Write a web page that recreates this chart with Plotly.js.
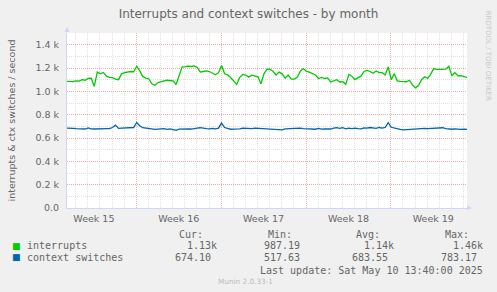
<!DOCTYPE html>
<html>
<head>
<meta charset="utf-8">
<script src="https://cdn.plot.ly/plotly-3.0.1.min.js"></script>
<style>
  html, body { margin: 0; padding: 0; background: #f0f0f0; }
  #chart { width: 497px; height: 292px; }
</style>
</head>
<body>
<div id="chart"></div>
<script>
// ---------------- data ----------------
// samples every 6 hours, starting at the left edge of the month window
const seriesNames = ['interrupts', 'context switches'];
const seriesColors = ['#00cc00', '#0066b3'];

const interrupts = [
  1085, 1085, 1083, 1090, 1088, 1100, 1095, 1110, 1112, 1042,
  1165, 1150, 1162, 1130, 1120, 1118, 1105, 1100, 1150, 1160,
  1165, 1170, 1168, 1215, 1175, 1128, 1114, 1108, 1065, 1052,
  1075, 1084, 1090, 1095, 1093, 1090, 1058, 1142, 1210, 1212,
  1216, 1213, 1218, 1205, 1165, 1170, 1175, 1170, 1155, 1142,
  1160, 1222, 1150, 1142, 1118, 1090, 1060, 1120, 1145, 1140,
  1122, 1138, 1130, 1125, 1065, 1150, 1190, 1188, 1172, 1140,
  1165, 1150, 1112, 1140, 1105, 1105, 1120, 1172, 1195, 1170,
  1165, 1150, 1140, 1110, 1120, 1110, 1115, 1080, 1090, 1100,
  1080, 1083, 1060, 1145, 1130, 1100, 1115, 1130, 1170, 1180,
  1170, 1155, 1174, 1160, 1160, 1140, 1210, 1100, 1150, 1090,
  1085, 1085, 1082, 1095, 1055, 1030, 1050, 1100, 1125, 1111,
  1145, 1195, 1188, 1188, 1190, 1190, 1215, 1135, 1160, 1133,
  1135, 1125, 1120
];

const contextSwitches = [
  684, 686, 683, 680, 678, 678, 677, 686, 678, 677,
  679, 677, 678, 680, 680, 690, 710, 682, 684, 684,
  688, 684, 690, 733, 705, 688, 684, 680, 675, 674,
  676, 678, 680, 674, 678, 672, 665, 676, 678, 677,
  678, 677, 678, 685, 688, 682, 680, 679, 682, 678,
  684, 728, 690, 682, 675, 676, 674, 678, 684, 682,
  683, 680, 684, 682, 683, 678, 676, 680, 676, 674,
  668, 670, 678, 680, 682, 683, 682, 684, 680, 678,
  677, 678, 675, 682, 676, 678, 678, 677, 684, 688,
  683, 688, 678, 684, 680, 684, 680, 678, 686, 684,
  690, 684, 682, 690, 684, 690, 732, 692, 684, 676,
  674, 670, 672, 676, 674, 678, 682, 684, 683, 680,
  682, 684, 680, 684, 688, 680, 676, 675, 678, 675,
  674, 676, 674
];

const weekLabels = ['Week 15', 'Week 16', 'Week 17', 'Week 18', 'Week 19'];
const weekLabelDates = ['2025-04-09 12:00', '2025-04-16 12:00', '2025-04-23 12:00', '2025-04-30 12:00', '2025-05-07 12:00'];
const weekStarts = ['2025-04-13', '2025-04-20', '2025-04-27', '2025-05-04'];

const yTickVals = [0, 200, 400, 600, 800, 1000, 1200, 1400];
const yTickText = ['0.0', '0.2 k', '0.4 k', '0.6 k', '0.8 k', '1.0 k', '1.2 k', '1.4 k'];

const statHeaders = ['Cur:', 'Min:', 'Avg:', 'Max:'];
const interruptStats = ['1.13k', '987.19', '1.14k', '1.46k'];
const contextStats = ['674.10', '517.63', '683.55', '783.17'];
const lastUpdate = 'Last update: Sat May 10 13:40:00 2025';
const muninVersion = 'Munin 2.0.33-1';

// ---------------- time axis ----------------
const DAY = 86400000;
const t0 = Date.UTC(2025, 3, 7, 6, 45);
const STEP = 6 * 3600 * 1000;
const fmt = ms => new Date(ms).toISOString().slice(0, 19).replace('T', ' ');
const times = interrupts.map((_, i) => fmt(t0 + i * STEP));
const xRange = [fmt(t0), fmt(t0 + 33 * DAY)];

// daily grid positions (midnights) that are not week boundaries
const weekStartMs = weekStarts.map(d => Date.parse(d + 'T00:00:00Z'));
const dayGrid = [];
for (let d = Date.UTC(2025, 3, 8); d < t0 + 33 * DAY; d += DAY) {
  if (!weekStartMs.includes(d)) dayGrid.push(fmt(d));
}

// ---------------- layout helpers ----------------
const W = 497, H = 292;
const L = 67, R = 467, T = 33, B = 208;
const px = x => (x - L) / (R - L);
const py = y => (B - y) / (B - T);

const FONT = '#666666';
const AXIS = '#CFD6F8';
const GRID = '#e0e0e0';
const MGRID = '#efa8a8';
const VGRID = 'rgba(230,120,120,0.55)';
const mono = { family: 'DejaVu Sans Mono', size: 10, color: FONT };

const traces = [
  {
    x: weekStarts, y: weekStarts.map(() => null), xaxis: 'x2', yaxis: 'y',
    type: 'scatter', mode: 'lines', showlegend: false, hoverinfo: 'skip'
  },
  {
    x: times, y: interrupts, type: 'scatter', mode: 'lines', name: seriesNames[0],
    line: { color: seriesColors[0], width: 1.3 }, hoverinfo: 'skip'
  },
  {
    x: times, y: contextSwitches, type: 'scatter', mode: 'lines', name: seriesNames[1],
    line: { color: seriesColors[1], width: 1.3 }, hoverinfo: 'skip'
  }
];

const ann = [];
function text(t, x, y, anchor, font, extra) {
  ann.push(Object.assign({
    text: t, xref: 'paper', yref: 'paper', x: px(x), y: py(y),
    xanchor: anchor, yanchor: 'middle', showarrow: false,
    font: font, borderpad: 0, borderwidth: 0
  }, extra || {}));
}

// legend swatches + names
const rowY = [245.7, 257.3];
seriesNames.forEach((n, i) => {
  text('■', 16.7, rowY[i], 'center', { family: 'DejaVu Sans', size: 9, color: seriesColors[i] });
  text(n, 26.7, rowY[i], 'left', mono);
});
// stats columns
const headerRight = [203, 292, 380, 469];
const plainRight = [210.7, 300.3, 388.3, 477.3];
const kShift = 6;
statHeaders.forEach((h, j) => text(h, headerRight[j], 234, 'right', mono));
[interruptStats, contextStats].forEach((row, i) => {
  row.forEach((v, j) => {
    const r = plainRight[j] + (/k$/.test(v) ? kShift : 0);
    text(v, r, rowY[i], 'right', mono);
  });
});
text(lastUpdate, 482.7, 270, 'right', mono);
text(muninVersion, 218.3, 281, 'left', { family: 'DejaVu Sans', size: 7.3, color: '#bbbbbb' });
text('RRDTOOL / TOBI OETIKER', 488.3, 56, 'center', { family: 'DejaVu Sans', size: 7, color: '#c8c8c8' }, { textangle: 90 });

// axis arrows
ann.push({ xref: 'paper', yref: 'paper', x: px(67), y: py(27), ax: 0, ay: 6, text: '',
  showarrow: true, arrowhead: 2, arrowsize: 1, arrowwidth: 1, arrowcolor: AXIS });
ann.push({ xref: 'paper', yref: 'paper', x: px(472), y: py(208), ax: -6, ay: 0, text: '',
  showarrow: true, arrowhead: 2, arrowsize: 1, arrowwidth: 1, arrowcolor: AXIS });

const layout = {
  width: W, height: H,
  margin: { l: L, r: W - R, t: T, b: H - B, pad: 0 },
  paper_bgcolor: '#f0f0f0', plot_bgcolor: '#ffffff',
  showlegend: false,
  title: {
    text: 'Interrupts and context switches - by month',
    font: { family: 'DejaVu Sans', size: 12, color: FONT },
    x: 0.5, xref: 'container', xanchor: 'center',
    y: 1 - 13.3 / H, yref: 'container', yanchor: 'middle'
  },
  // main x: week labels at mid-week + daily dotted grid
  xaxis: {
    type: 'date', range: xRange, fixedrange: true,
    tickmode: 'array', tickvals: weekLabelDates, ticktext: weekLabels,
    tickfont: { family: 'DejaVu Sans', size: 9.5, color: FONT }, ticklabelstandoff: 2,
    ticks: '', showgrid: false,
    minor: { tickmode: 'array', tickvals: dayGrid, showgrid: true,
             gridcolor: GRID, griddash: '1px,1px', gridwidth: 1, ticks: '' },
    showline: true, linecolor: AXIS, linewidth: 1, zeroline: false
  },
  // overlay x: red dotted week boundaries
  xaxis2: {
    type: 'date', range: xRange, overlaying: 'x', anchor: 'y', side: 'bottom',
    tickmode: 'array', tickvals: weekStarts, showticklabels: false,
    ticks: '', showgrid: true, gridcolor: VGRID, griddash: '1px,1px', gridwidth: 1,
    showline: false, zeroline: false
  },
  yaxis: {
    range: [0, 1500], fixedrange: true,
    tickmode: 'array', tickvals: yTickVals, ticktext: yTickText,
    tickfont: { family: 'DejaVu Sans', size: 9.5, color: FONT },
    ticks: '', ticklabelstandoff: 5,
    showgrid: true, gridcolor: MGRID, griddash: '1px,1px', gridwidth: 1,
    minor: { tickmode: 'linear', tick0: 0, dtick: 100, showgrid: true,
             gridcolor: GRID, griddash: '1px,1px', gridwidth: 1, ticks: '' },
    showline: true, linecolor: AXIS, linewidth: 1, zeroline: false,
    title: { text: 'interrupts & ctx switches / second',
             font: { family: 'DejaVu Sans', size: 9.5, color: FONT }, standoff: 18 }
  },
  annotations: ann
};

Plotly.newPlot('chart', traces, layout, { displayModeBar: false, staticPlot: true });
</script>
</body>
</html>
